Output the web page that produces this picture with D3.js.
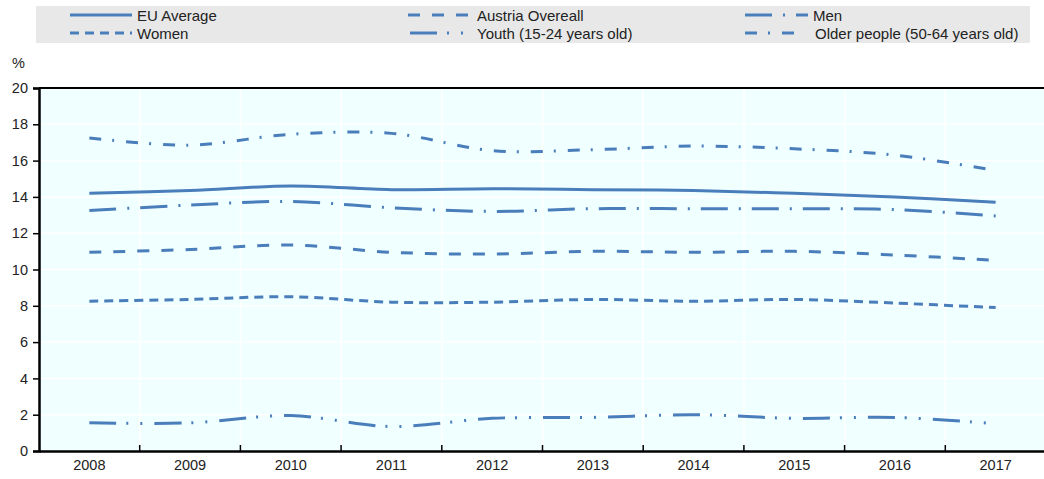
<!DOCTYPE html>
<html>
<head>
<meta charset="utf-8">
<script src="https://cdn.jsdelivr.net/npm/d3@7"></script>
<style>
  body { margin: 0; background: #fff; }
  text { font-family: "Liberation Sans", Arial, sans-serif; fill: #222; }
</style>
</head>
<body>
<div id="chart"></div>
<script>
// data
const years = ["2008","2009","2010","2011","2012","2013","2014","2015","2016","2017"];
const euAverage = [14.2, 14.35, 14.6, 14.4, 14.45, 14.4, 14.35, 14.2, 14.0, 13.7];
const austriaOverall = [10.95, 11.1, 11.35, 10.95, 10.85, 11.0, 10.95, 11.0, 10.8, 10.5];
const men = [13.25, 13.55, 13.75, 13.4, 13.2, 13.35, 13.35, 13.35, 13.3, 12.95];
const women = [8.25, 8.35, 8.5, 8.2, 8.2, 8.35, 8.25, 8.35, 8.15, 7.9];
const youth = [1.55, 1.55, 1.95, 1.35, 1.8, 1.85, 2.0, 1.8, 1.85, 1.5];
const olderPeople = [17.25, 16.85, 17.45, 17.5, 16.55, 16.6, 16.8, 16.65, 16.3, 15.45];
const yTicks = [0, 2, 4, 6, 8, 10, 12, 14, 16, 18, 20];

const W = 1044, H = 479;
const plot = { left: 39, top: 88, right: 1046, bottom: 451 };
const lineColor = "#4a7ebb";

const series = [
  { name: "EU Average", values: euAverage, dash: null },
  { name: "Austria Overeall", values: austriaOverall, dash: "12,12" },
  { name: "Men", values: men, dash: "27,11,2,11" },
  { name: "Women", values: women, dash: "9,6" },
  { name: "Youth (15-24 years old)", values: youth, dash: "27,10,2,12,2,12" },
  { name: "Older people (50-64 years old)", values: olderPeople, dash: "12,11,2,12" }
];

const svg = d3.select("#chart").append("svg")
  .attr("width", W).attr("height", H);

// scales
const x = d3.scaleBand().domain(years).range([plot.left, plot.right]).padding(0);
const y = d3.scaleLinear().domain([0, 20]).range([plot.bottom, plot.top]);

// plot background
svg.append("rect")
  .attr("x", plot.left).attr("y", plot.top)
  .attr("width", plot.right - plot.left).attr("height", plot.bottom - plot.top)
  .attr("fill", "#f0ffff");

// gridlines
svg.append("g").selectAll("line.h")
  .data(yTicks.slice(1, -1))
  .join("line")
  .attr("x1", plot.left).attr("x2", plot.right)
  .attr("y1", d => y(d)).attr("y2", d => y(d))
  .attr("stroke", "#fff").attr("stroke-width", 1.5);

svg.append("g").selectAll("line.v")
  .data(years.slice(1))
  .join("line")
  .attr("x1", d => x(d)).attr("x2", d => x(d))
  .attr("y1", plot.top).attr("y2", plot.bottom)
  .attr("stroke", "#fff").attr("stroke-width", 1.5);

// lines
const line = d3.line()
  .x((d, i) => x(years[i]) + x.bandwidth() / 2)
  .y(d => y(d))
  .curve(d3.curveCatmullRom.alpha(0.5));

svg.append("g").selectAll("path")
  .data(series)
  .join("path")
  .attr("d", d => line(d.values))
  .attr("fill", "none")
  .attr("stroke", lineColor)
  .attr("stroke-width", 3)
  .attr("stroke-dasharray", d => d.dash);

// axes frame
svg.append("line")
  .attr("x1", plot.left).attr("x2", plot.right)
  .attr("y1", plot.top).attr("y2", plot.top)
  .attr("stroke", "#000").attr("stroke-width", 2);

const yAxis = svg.append("g")
  .attr("transform", `translate(${plot.left},0)`)
  .call(d3.axisLeft(y).tickValues(yTicks).tickSize(6).tickPadding(5).tickFormat(d3.format("d")));
yAxis.select(".domain").attr("stroke", "#000").attr("stroke-width", 2.5);
yAxis.selectAll(".tick line").attr("stroke", "#000").attr("stroke-width", 1.5);
yAxis.selectAll(".tick text").style("font-size", "14.5px").attr("fill", "#222");

const xAxis = svg.append("g")
  .attr("transform", `translate(0,${plot.bottom})`)
  .call(d3.axisBottom(x).tickSize(0).tickPadding(9));
xAxis.select(".domain").attr("stroke", "#000").attr("stroke-width", 2.5);
xAxis.selectAll(".tick text").style("font-size", "14.5px").attr("fill", "#222");

// x ticks at band boundaries, pointing into the plot
svg.append("g").selectAll("line")
  .data(years.slice(1))
  .join("line")
  .attr("x1", d => x(d)).attr("x2", d => x(d))
  .attr("y1", plot.bottom).attr("y2", plot.bottom - 6)
  .attr("stroke", "#000").attr("stroke-width", 1.5);

// unit label
svg.append("text")
  .attr("x", 12).attr("y", 68)
  .style("font-size", "14.5px")
  .text("%");

// legend
const legend = svg.append("g");
legend.append("rect")
  .attr("x", 36).attr("y", 6).attr("width", 994).attr("height", 37)
  .attr("fill", "#e8e8e8");

const legendPos = [
  { x: 70, y: 15, len: 62, tx: 137 },
  { x: 408, y: 15, len: 62, tx: 477 },
  { x: 745, y: 15, len: 63, tx: 813 },
  { x: 70, y: 33, len: 62, tx: 137 },
  { x: 410, y: 33, len: 58, tx: 477 },
  { x: 745, y: 33, len: 52, tx: 815 }
];

const items = legend.selectAll("g.item")
  .data(series)
  .join("g")
  .attr("class", "item");

items.append("line")
  .attr("x1", (d, i) => legendPos[i].x)
  .attr("x2", (d, i) => legendPos[i].x + legendPos[i].len)
  .attr("y1", (d, i) => legendPos[i].y)
  .attr("y2", (d, i) => legendPos[i].y)
  .attr("stroke", lineColor)
  .attr("stroke-width", 3)
  .attr("stroke-dasharray", d => d.dash);

items.append("text")
  .attr("x", (d, i) => legendPos[i].tx)
  .attr("y", (d, i) => legendPos[i].y + 5.5)
  .style("font-size", "15px")
  .text(d => d.name);
</script>
</body>
</html>
